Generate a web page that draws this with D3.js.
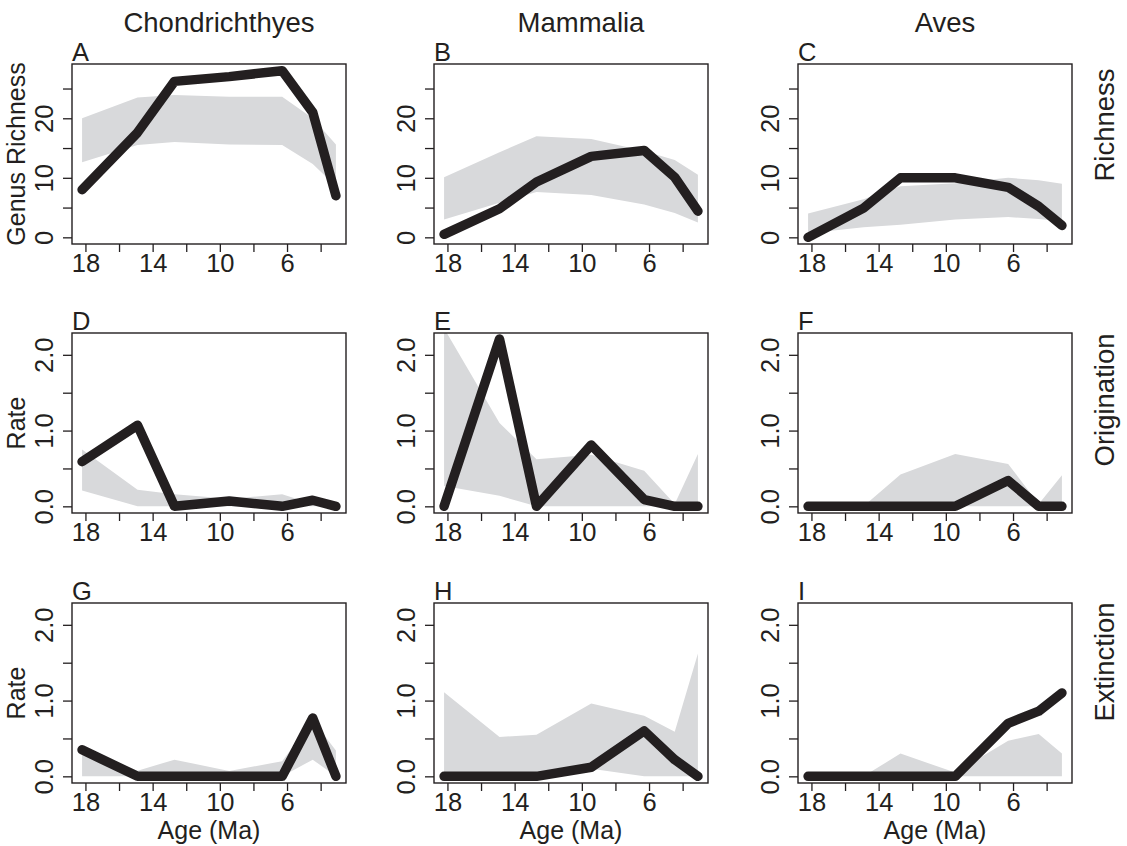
<!DOCTYPE html>
<html>
<head>
<meta charset="utf-8">
<script src="https://cdn.jsdelivr.net/npm/d3@7"></script>
<style>
  body { margin: 0; background: #fff; }
  svg text { font-family: "Liberation Sans", Arial, Helvetica, sans-serif; fill: #231f20; }
</style>
</head>
<body>
<svg id="chart" width="1127" height="846"></svg>
<script>
// stage midpoints (Ma)
var ages = [18.2, 14.9, 12.7, 9.44, 6.29, 4.47, 3.09];
var taxa = ["Chondrichthyes", "Mammalia", "Aves"];
var rowNames = ["Richness", "Origination", "Extinction"];
var yLabels = ["Genus Richness", "Rate", "Rate"];
var letters = ["A", "B", "C", "D", "E", "F", "G", "H", "I"];
var ageTicks = [18, 16, 14, 12, 10, 8, 6, 4];
var ageLabels = [18, 14, 10, 6];
var richTicks = [0, 5, 10, 15, 20, 25];
var richLabels = [0, 10, 20];
var rateTicks = [0, 0.5, 1, 1.5, 2];
var rateLabels = [0, 1, 2];

// observed values (black lines)
var chondRich = [8.0, 17.6, 26.2, 27.0, 28.0, 21.0, 7.0];
var mammRich  = [0.5, 4.8, 9.3, 13.6, 14.6, 10.1, 4.4];
var avesRich  = [0.0, 4.9, 10.0, 10.0, 8.4, 5.2, 2.0];
var chondOrig = [0.59, 1.07, 0.0, 0.07, 0.0, 0.08, 0.0];
var mammOrig  = [0.0, 2.21, 0.0, 0.81, 0.09, 0.0, 0.0];
var avesOrig  = [0.0, 0.0, 0.0, 0.0, 0.34, 0.0, 0.0];
var chondExt  = [0.35, 0.0, 0.0, 0.0, 0.0, 0.77, 0.0];
var mammExt   = [0.0, 0.0, 0.0, 0.12, 0.6, 0.22, 0.0];
var avesExt   = [0.0, 0.0, 0.0, 0.0, 0.70, 0.86, 1.10];

// expected ranges (grey bands)
var chondRichLo = [12.6, 15.5, 16.0, 15.6, 15.5, 12.3, 8.6];
var chondRichHi = [20.0, 23.5, 23.9, 23.6, 23.6, 20.0, 15.6];
var mammRichLo  = [3.0, 5.8, 7.6, 7.1, 5.5, 4.1, 2.5];
var mammRichHi  = [10.1, 14.3, 17.0, 16.5, 14.5, 13.0, 10.5];
var avesRichLo  = [0.7, 1.7, 2.1, 3.0, 3.4, 3.1, 2.7];
var avesRichHi  = [4.0, 6.4, 8.6, 9.1, 10.0, 9.6, 9.0];
var chondOrigLo = [0.21, 0, 0, 0, 0, 0, 0];
var chondOrigHi = [0.75, 0.22, 0.16, 0.10, 0.16, 0.03, 0];
var mammOrigLo  = [0.27, 0.14, 0, 0, 0, 0, 0];
var mammOrigHi  = [2.35, 1.10, 0.62, 0.68, 0.47, 0.03, 0.69];
var avesOrigLo  = [0, 0, 0, 0, 0, 0, 0];
var avesOrigHi  = [0, 0, 0.42, 0.69, 0.56, 0.03, 0.41];
var chondExtLo  = [0, 0, 0, 0, 0, 0.22, 0];
var chondExtHi  = [0.36, 0.075, 0.22, 0.07, 0.2, 0.74, 0.34];
var mammExtLo   = [0, 0, 0, 0.1, 0, 0, 0];
var mammExtHi   = [1.11, 0.52, 0.55, 0.96, 0.80, 0.59, 1.62];
var avesExtLo   = [0, 0, 0, 0, 0, 0, 0];
var avesExtHi   = [0, 0, 0.30, 0.05, 0.47, 0.56, 0.30];

var obs = [chondRich, mammRich, avesRich, chondOrig, mammOrig, avesOrig, chondExt, mammExt, avesExt];
var lo = [chondRichLo, mammRichLo, avesRichLo, chondOrigLo, mammOrigLo, avesOrigLo, chondExtLo, mammExtLo, avesExtLo];
var hi = [chondRichHi, mammRichHi, avesRichHi, chondOrigHi, mammOrigHi, avesOrigHi, chondExtHi, mammExtHi, avesExtHi];

var colX = [72, 434, 798], rowY = [64, 333, 603];
var W = 274, H = 180;
var ink = "#231f20", grey = "#d8d9db";
var svg = d3.select("#chart");

var x = d3.scaleLinear().domain([18.8, 2.49]).range([0, W]);
var yRich = d3.scaleLinear().domain([-1.12, 29.12]).range([H, 0]);
var yRate = d3.scaleLinear().domain([-0.088, 2.288]).range([H, 0]);

for (var r = 0; r < 3; r++) {
	for (var c = 0; c < 3; c++) {
		var k = r * 3 + c;
		var y = r == 0 ? yRich : yRate;
		var g = svg.append("g").attr("transform", "translate(" + colX[c] + "," + rowY[r] + ")");

		g.append("clipPath").attr("id", "clip" + k)
			.append("rect").attr("width", W).attr("height", H);

		var pts = ages.map(function(a, i) { return {age: a, lo: lo[k][i], hi: hi[k][i], v: obs[k][i]}; });

		g.append("path")
			.datum(pts)
			.attr("clip-path", "url(#clip" + k + ")")
			.attr("fill", grey)
			.attr("d", d3.area()
				.x(function(d) { return x(d.age); })
				.y0(function(d) { return y(d.lo); })
				.y1(function(d) { return y(d.hi); }));

		g.append("path")
			.datum(pts)
			.attr("fill", "none")
			.attr("stroke", ink)
			.attr("stroke-width", 9.5)
			.attr("stroke-linejoin", "round")
			.attr("stroke-linecap", "round")
			.attr("d", d3.line()
				.x(function(d) { return x(d.age); })
				.y(function(d) { return y(d.v); }));

		g.append("rect")
			.attr("width", W).attr("height", H)
			.attr("fill", "none").attr("stroke", ink).attr("stroke-width", 1.4);

		// bottom axis
		var xa = g.append("g")
			.attr("transform", "translate(0," + H + ")")
			.style("color", ink)
			.call(d3.axisBottom(x).tickValues(ageTicks).tickSize(8).tickSizeOuter(0)
				.tickFormat(function(d) { return ageLabels.indexOf(d) >= 0 ? d : ""; }));
		xa.select(".domain").remove();
		xa.selectAll("line").attr("stroke-width", 1.3);
		xa.selectAll("text")
			.attr("y", 28).attr("dy", null)
			.attr("font-size", 25.5).attr("font-family", null);

		// left axis
		var labs = r == 0 ? richLabels : rateLabels;
		var ya = g.append("g")
			.style("color", ink)
			.call(d3.axisLeft(y).tickValues(r == 0 ? richTicks : rateTicks).tickSize(9).tickSizeOuter(0)
				.tickFormat(function(d) {
					if (labs.indexOf(d) < 0) return "";
					return r == 0 ? d : d3.format(".1f")(d);
				}));
		ya.select(".domain").remove();
		ya.selectAll("line").attr("stroke-width", 1.3);
		ya.selectAll("text")
			.attr("x", 0).attr("dy", null)
			.attr("transform", "translate(-19,0) rotate(-90)")
			.attr("text-anchor", "middle")
			.attr("font-size", 25.5).attr("font-family", null);

		g.append("text")
			.attr("x", 0).attr("y", -3)
			.attr("font-size", 25.5)
			.text(letters[k]);

		if (c == 0) {
			g.append("text")
				.attr("transform", "translate(-47," + (H / 2) + ") rotate(-90)")
				.attr("text-anchor", "middle")
				.attr("font-size", 25)
				.text(yLabels[r]);
		}
		if (r == 2) {
			g.append("text")
				.attr("x", W / 2).attr("y", H + 56)
				.attr("text-anchor", "middle")
				.attr("font-size", 25)
				.text("Age (Ma)");
		}
	}
}

// column titles
svg.selectAll("text.taxon")
	.data(taxa)
	.enter().append("text")
		.attr("class", "taxon")
		.attr("x", function(d, i) { return colX[i] + W / 2 + 10; })
		.attr("y", 32)
		.attr("text-anchor", "middle")
		.attr("font-size", 27.5)
		.text(function(d) { return d; });

// row names on the right
var rowMid = [125, 400, 662];
svg.selectAll("text.rowname")
	.data(rowNames)
	.enter().append("text")
		.attr("class", "rowname")
		.attr("transform", function(d, i) { return "translate(1114," + rowMid[i] + ") rotate(-90)"; })
		.attr("text-anchor", "middle")
		.attr("font-size", 27.5)
		.text(function(d) { return d; });
</script>
</body>
</html>
